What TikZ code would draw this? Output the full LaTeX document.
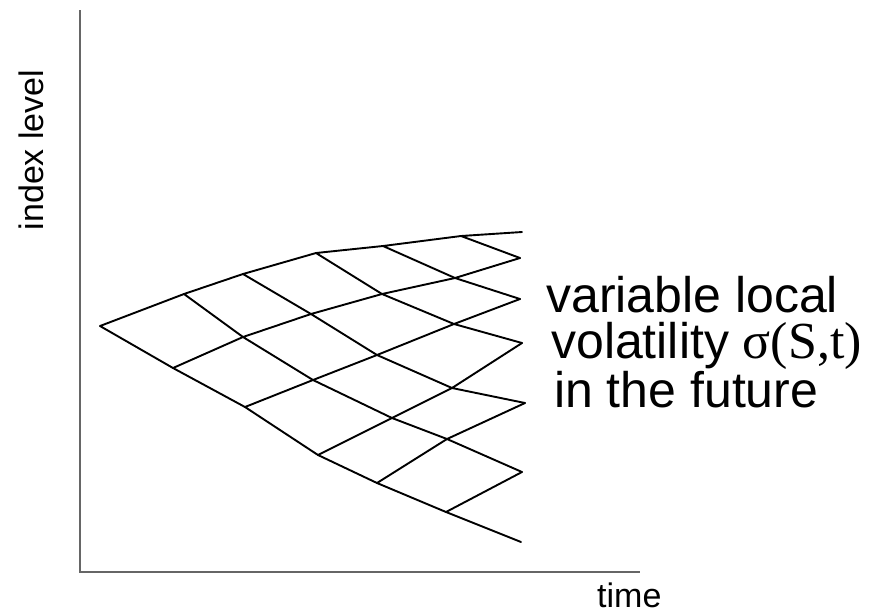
\documentclass[tikz,border=0pt]{standalone}
\usepackage{fontspec}
\setmainfont{Liberation Sans}
\newfontfamily\timesfont{Liberation Serif}
\tikzset{
  lat/.style={line width=1.9pt, black, line cap=round, line join=round},
  axisline/.style={line width=2.2pt, black!60},
  axlabel/.style={inner sep=0pt, font=\fontsize{34}{38}\selectfont},
  rtext/.style={inner sep=0pt, anchor=north west, align=left, font=\fontsize{50}{46}\selectfont}
}
\begin{document}
\begin{tikzpicture}[x=1pt,y=-1pt]
\useasboundingbox (0,0) rectangle (874,614);
% axes
\coordinate (ytop) at (80,10);
\coordinate (xend) at (640,572);
\draw[axisline] (ytop) |- (xend);
\node[axlabel, rotate=90, anchor=base] (ylab) at (43,150) {index level};
\node[axlabel, anchor=base west] (xlab) at (597,607) {time};
% lattice points
\coordinate (a0) at (100,326);
\coordinate (b0) at (184,294); \coordinate (b1) at (173,368);
\coordinate (c0) at (243,274); \coordinate (c1) at (243,337); \coordinate (c2) at (245,407);
\coordinate (d0) at (316,253); \coordinate (d1) at (311,314); \coordinate (d2) at (313,380); \coordinate (d3) at (318,455);
\coordinate (e0) at (383,246); \coordinate (e1) at (382,294); \coordinate (e2) at (377,355); \coordinate (e3) at (392,418); \coordinate (e4) at (377,483);
\coordinate (f0) at (461,236); \coordinate (f1) at (455,278); \coordinate (f2) at (454,324); \coordinate (f3) at (452,388); \coordinate (f4) at (447,439); \coordinate (f5) at (446,512);
\coordinate (g0) at (522,232); \coordinate (g1) at (520,258); \coordinate (g2) at (520,299); \coordinate (g3) at (522,343); \coordinate (g4) at (525,403); \coordinate (g5) at (522,472); \coordinate (g6) at (521,542);
% edges
\draw[lat] (b0) -- (a0) -- (b1);
\foreach \i/\j in {0/1,1/2}{ \draw[lat] (c\i) -- (b\i) -- (c\j); }
\foreach \i/\j in {0/1,1/2,2/3}{ \draw[lat] (d\i) -- (c\i) -- (d\j); }
\foreach \i/\j in {0/1,1/2,2/3,3/4}{ \draw[lat] (e\i) -- (d\i) -- (e\j); }
\foreach \i/\j in {0/1,1/2,2/3,3/4,4/5}{ \draw[lat] (f\i) -- (e\i) -- (f\j); }
\foreach \i/\j in {0/1,1/2,2/3,3/4,4/5,5/6}{ \draw[lat] (g\i) -- (f\i) -- (g\j); }
% text
\node[rtext] (txt) at (546,276.5) {variable local\\
\hspace*{5pt}volatility {\timesfont\fontsize{52}{46}\selectfont σ(S,t)}\\
\hspace*{8pt}in the future};
\end{tikzpicture}
\end{document}
